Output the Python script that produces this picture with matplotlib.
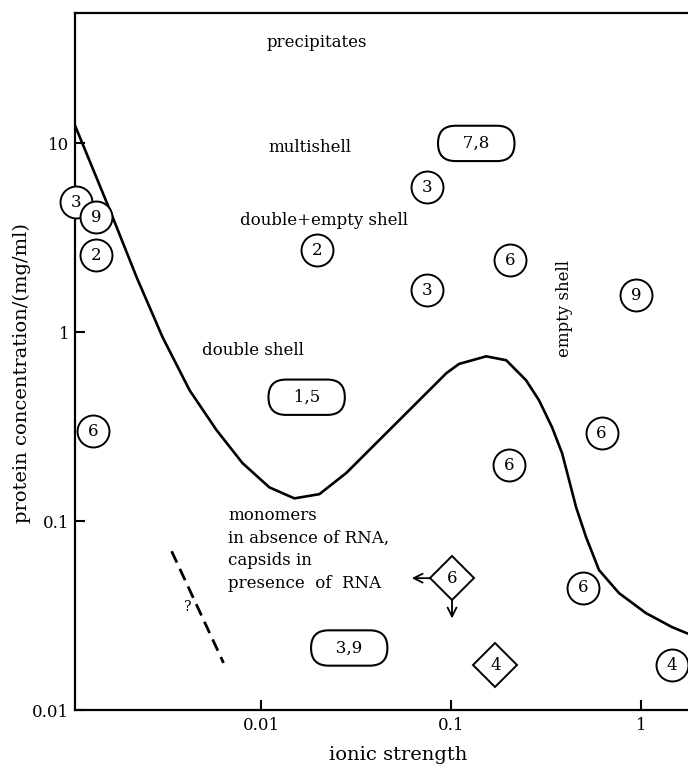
import matplotlib
matplotlib.use("Agg")
import matplotlib.pyplot as plt
from matplotlib.ticker import NullLocator, FixedLocator, FixedFormatter
from matplotlib.transforms import offset_copy

plt.rcParams["font.family"] = ["DejaVu Serif"]

# phase boundary
curve_x = [0.00104, 0.00159, 0.0022, 0.00301, 0.00418, 0.0058, 0.00794, 0.0110,
           0.0149, 0.0202, 0.028, 0.0418, 0.0623, 0.0942, 0.110, 0.153, 0.195,
           0.248, 0.290, 0.340, 0.384, 0.418, 0.455, 0.514, 0.601, 0.766,
           1.062, 1.456, 1.746]
curve_y = [12.45, 4.42, 1.95, 0.942, 0.493, 0.303, 0.203, 0.151,
           0.132, 0.139, 0.180, 0.269, 0.401, 0.607, 0.680, 0.746, 0.711,
           0.557, 0.437, 0.314, 0.229, 0.165, 0.1186, 0.0822, 0.0551, 0.0416,
           0.0326, 0.0275, 0.0255]

circle_x = [0.00105, 0.00134, 0.00134, 0.0013, 0.0197, 0.0748, 0.205, 0.0748,
            0.94, 0.202, 0.62, 0.495, 1.46]
circle_y = [4.88, 4.06, 2.55, 0.30, 2.72, 5.85, 2.40, 1.67,
            1.57, 0.198, 0.292, 0.0443, 0.0173]
circle_lab = ["3", "9", "2", "6", "2", "3", "6", "3", "9", "6", "6", "6", "4"]

diamond_x = [0.101, 0.171]
diamond_y = [0.0499, 0.0173]
diamond_lab = ["6", "4"]

pill_x = [0.1355, 0.0173, 0.029]
pill_y = [10.0, 0.453, 0.0213]
pill_lab = ["7,8", "1,5", "3,9"]

dash_x = [0.00336, 0.00631]
dash_y = [0.0693, 0.01775]

fig = plt.figure(figsize=(6.88, 7.68), dpi=100)
ax = fig.add_axes([0.109, 0.0755, 0.891, 0.9075])
ax.set_xscale("log")
ax.set_yscale("log")
ax.set_xlim(0.00104, 1.77)
ax.set_ylim(0.01, 49)

ax.plot(curve_x, curve_y, color="black", lw=1.9, solid_joinstyle="round", zorder=2)
ax.plot(dash_x, dash_y, color="black", lw=2.0, dashes=(4.5, 2.5), zorder=2)
ax.text(0.00408, 0.0351, "?", fontsize=10, ha="center", va="center")

for x, y, s in zip(circle_x, circle_y, circle_lab):
    ax.plot(x, y, marker="o", ms=23, mfc="white", mec="black", mew=1.4,
            clip_on=False, zorder=5)
    ax.text(x, y, s, fontsize=12, ha="center", va="center", zorder=6, clip_on=False)

for x, y, s in zip(diamond_x, diamond_y, diamond_lab):
    ax.plot(x, y, marker="D", ms=22, mfc="white", mec="black", mew=1.4, zorder=5)
    ax.text(x, y, s, fontsize=12, ha="center", va="center", zorder=6)

for x, y, s in zip(pill_x, pill_y, pill_lab):
    ax.text(x, y, "   " + s + "   ", fontsize=12, ha="center", va="center", zorder=6,
            bbox=dict(boxstyle="round,pad=0.55,rounding_size=1.05",
                      fc="white", ec="black", lw=1.5))

# arrows leaving the "6" diamond
arrow = dict(arrowstyle="->", color="black", lw=1.3, mutation_scale=16,
             shrinkA=0, shrinkB=0)
left_a = offset_copy(ax.transData, fig=fig, x=-15.5, y=0, units="points")
left_b = offset_copy(ax.transData, fig=fig, x=-29, y=0, units="points")
down_a = offset_copy(ax.transData, fig=fig, x=0, y=-15.5, units="points")
down_b = offset_copy(ax.transData, fig=fig, x=0, y=-29, units="points")
ax.annotate("", xy=(diamond_x[0], diamond_y[0]), xycoords=left_b,
            xytext=(diamond_x[0], diamond_y[0]), textcoords=left_a, arrowprops=arrow)
ax.annotate("", xy=(diamond_x[0], diamond_y[0]), xycoords=down_b,
            xytext=(diamond_x[0], diamond_y[0]), textcoords=down_a, arrowprops=arrow)

ax.text(0.0106, 34.2, "precipitates", fontsize=12, ha="left", va="center")
ax.text(0.0109, 9.5, "multishell", fontsize=12, ha="left", va="center")
ax.text(0.00766, 3.92, "double+empty shell", fontsize=12, ha="left", va="center")
ax.text(0.00483, 0.80, "double shell", fontsize=12, ha="left", va="center")
ax.text(0.0067, 0.1186, "monomers\nin absence of RNA,\ncapsids in\npresence  of  RNA",
        fontsize=12, ha="left", va="top", linespacing=1.43)
ax.text(0.394, 1.34, "empty shell", fontsize=12, rotation=90, ha="center", va="center")

ax.set_xlabel("ionic strength", fontsize=14, va="center")
ax.xaxis.set_label_coords(0.527, -0.0646)
ax.set_ylabel("protein concentration/(mg/ml)", fontsize=14, va="center")
ax.yaxis.set_label_coords(-0.086, 0.483)

ax.xaxis.set_major_locator(FixedLocator([0.01, 0.1, 1]))
ax.xaxis.set_major_formatter(FixedFormatter(["0.01", "0.1", "1"]))
ax.yaxis.set_major_locator(FixedLocator([0.01, 0.1, 1, 10]))
ax.yaxis.set_major_formatter(FixedFormatter(["0.01", "0.1", "1", "10"]))
ax.xaxis.set_minor_locator(NullLocator())
ax.yaxis.set_minor_locator(NullLocator())
ax.tick_params(direction="in", length=7, width=1.5, labelsize=12)
ax.tick_params(axis="x", pad=5)
ax.tick_params(axis="y", pad=4)
ax.spines["right"].set_visible(False)
for sp in ["left", "top", "bottom"]:
    ax.spines[sp].set_linewidth(1.6)

fig.savefig("out.png", dpi=100)
